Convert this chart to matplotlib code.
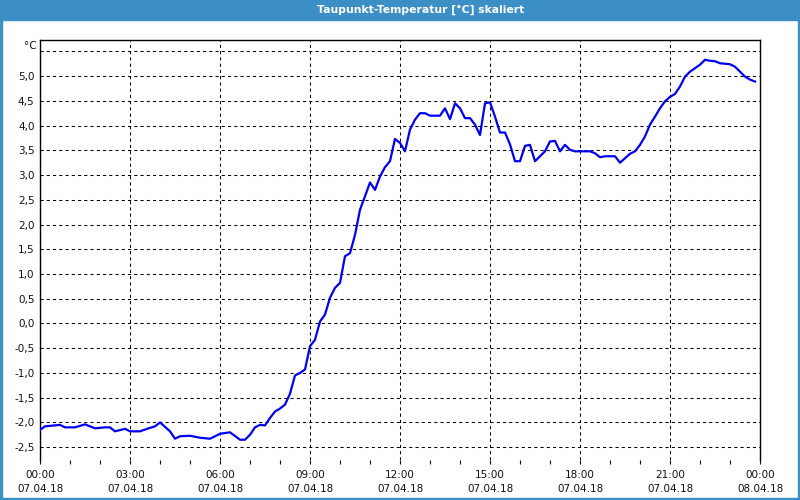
import pandas as pd
import matplotlib.pyplot as plt
from matplotlib.patches import Rectangle
from matplotlib.ticker import MultipleLocator

# Taupunkt readings, 07.04.18 (every ~10 min)
times = ['00:00', '00:10', '00:40', '00:50', '01:10', '01:30', '01:50', '02:10', '02:20', '02:30',
         '02:50', '03:00', '03:20', '03:40', '03:50', '04:00', '04:20', '04:30', '04:40', '05:00',
         '05:20', '05:40', '06:00', '06:20', '06:40', '06:50', '07:00', '07:10', '07:20', '07:30',
         '07:40', '07:50', '08:00', '08:10', '08:20', '08:30', '08:40', '08:50', '09:00', '09:10',
         '09:20', '09:30', '09:40', '09:50', '10:00', '10:10', '10:20', '10:30', '10:40', '10:50',
         '11:00', '11:10', '11:20', '11:30', '11:40', '11:50', '12:00', '12:10', '12:20', '12:30',
         '12:40', '12:50', '13:00', '13:20', '13:30', '13:40', '13:50', '14:00', '14:10', '14:20',
         '14:30', '14:40', '14:50', '15:00', '15:10', '15:20', '15:30', '15:40', '15:50', '16:00',
         '16:10', '16:20', '16:30', '16:40', '16:50', '17:00', '17:10', '17:20', '17:30', '17:40',
         '17:50', '18:20', '18:30', '18:40', '18:50', '19:10', '19:20', '19:30', '19:40', '19:50',
         '20:00', '20:10', '20:20', '20:30', '20:40', '20:50', '21:00', '21:10', '21:20', '21:30',
         '21:40', '21:50', '22:00', '22:10', '22:20', '22:30', '22:40', '23:00', '23:10', '23:20',
         '23:30', '23:40', '23:50']
dewpoint = [-2.15, -2.08, -2.05, -2.10, -2.10, -2.04, -2.12, -2.10, -2.10, -2.18,
            -2.13, -2.18, -2.18, -2.11, -2.08, -2.00, -2.18, -2.33, -2.28, -2.27,
            -2.31, -2.33, -2.23, -2.20, -2.35, -2.35, -2.25, -2.10, -2.05, -2.06,
            -1.91, -1.78, -1.72, -1.64, -1.42, -1.05, -1.00, -0.93, -0.46, -0.33,
            0.04, 0.18, 0.52, 0.72, 0.82, 1.36, 1.42, 1.79, 2.30, 2.57,
            2.85, 2.70, 2.97, 3.16, 3.28, 3.73, 3.65, 3.48, 3.92, 4.12,
            4.25, 4.25, 4.20, 4.20, 4.35, 4.13, 4.45, 4.35, 4.15, 4.15,
            4.02, 3.81, 4.45, 4.47, 4.18, 3.86, 3.86, 3.62, 3.28, 3.28,
            3.59, 3.61, 3.28, 3.38, 3.48, 3.68, 3.69, 3.48, 3.61, 3.51,
            3.48, 3.48, 3.44, 3.36, 3.38, 3.38, 3.25, 3.34, 3.43, 3.48,
            3.61, 3.78, 4.02, 4.18, 4.35, 4.49, 4.58, 4.64, 4.79, 4.99,
            5.09, 5.16, 5.23, 5.33, 5.31, 5.30, 5.26, 5.24, 5.19, 5.09,
            4.99, 4.93, 4.89]

x_ticks = [0, 3, 6, 9, 12, 15, 18, 21, 24]
x_labels = ['00:00\n07.04.18', '03:00\n07.04.18', '06:00\n07.04.18', '09:00\n07.04.18',
            '12:00\n07.04.18', '15:00\n07.04.18', '18:00\n07.04.18', '21:00\n07.04.18',
            '00:00\n08.04.18']
y_ticks = [-2.5, -2.0, -1.5, -1.0, -0.5, 0.0, 0.5, 1.0, 1.5, 2.0, 2.5, 3.0, 3.5, 4.0, 4.5, 5.0, 5.5]

hours = pd.to_timedelta([t + ':00' for t in times]).total_seconds() / 3600

plt.rcParams['font.family'] = 'DejaVu Sans'
fig = plt.figure(figsize=(8, 5), dpi=100, facecolor='white')
blue = '#3c8fc4'

# title bar and frame
fig.patches.append(Rectangle((0, 0.96), 1, 0.04, transform=fig.transFigure, color=blue, zorder=0))
fig.patches.append(Rectangle((0, 0), 0.003, 1, transform=fig.transFigure, color=blue, zorder=0))
fig.patches.append(Rectangle((0.997, 0), 0.003, 1, transform=fig.transFigure, color=blue, zorder=0))
fig.patches.append(Rectangle((0, 0), 1, 0.004, transform=fig.transFigure, color=blue, zorder=0))
fig.text(0.526, 0.98, 'Taupunkt-Temperatur [°C] skaliert', color='white', fontsize=7.8,
         fontweight='bold', ha='center', va='center')

ax = fig.add_axes([0.05, 0.08, 0.90, 0.84])
ax.plot(hours, dewpoint, color='#0000f0', lw=1.6, zorder=3)

ax.set_xlim(0, 24)
ax.set_ylim(-2.76, 5.73)
ax.set_xticks(x_ticks)
ax.set_xticklabels(x_labels, linespacing=1.55)
ax.xaxis.set_minor_locator(MultipleLocator(1))
ax.set_yticks(y_ticks)
ax.set_yticklabels([f'{v:.1f}'.replace('.', ',') if v < 5.4 else '' for v in y_ticks])
ax.tick_params(axis='x', which='both', direction='out', length=3, width=0.8, pad=4,
               labelsize=7.5, colors='#111111')
ax.tick_params(axis='y', length=0, pad=4, labelsize=7.5, colors='#111111')
ax.grid(True, which='major', color='black', lw=0.75, linestyle=(0, (3, 3)))
for side in ['top', 'left', 'right']:
    ax.spines[side].set_linewidth(1.0)
ax.spines['bottom'].set_visible(False)
fig.text(0.046, 0.908, '°C', fontsize=7.5, ha='right', va='center', color='#111111')

fig.savefig('out.png', dpi=100)
